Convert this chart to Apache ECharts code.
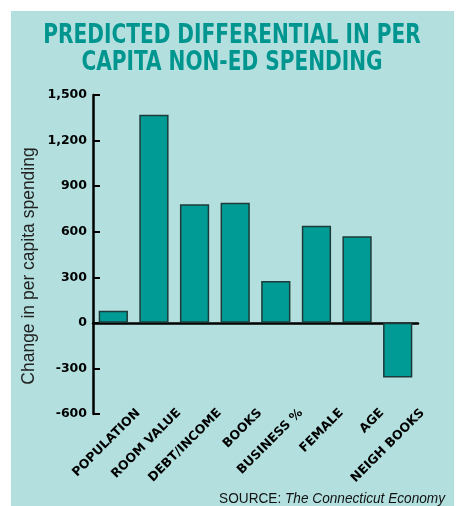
<!DOCTYPE html>
<html>
<head>
<meta charset="utf-8">
<script src="https://cdn.jsdelivr.net/npm/echarts@6/dist/echarts.min.js"></script>
<style>
  html, body { margin: 0; padding: 0; background: #fff; }
  #main { width: 459px; height: 506px; }
</style>
</head>
<body>
<div id="main"></div>
<script>
// data
const categories = ['POPULATION', 'ROOM VALUE', 'DEBT/INCOME', 'BOOKS', 'BUSINESS %', 'FEMALE', 'AGE', 'NEIGH BOOKS'];
const values = [80, 1370, 780, 790, 275, 640, 570, -360];
const yMin = -600;
const yMax = 1500;
const yStep = 300;

const titleLines = ['PREDICTED DIFFERENTIAL IN PER', 'CAPITA NON-ED SPENDING'];
const yName = 'Change in per capita spending';

const teal = '#009b94';
const panel = '#b3e0df';

const chartDom = document.getElementById('main');
const myChart = echarts.init(chartDom);

// no narrow font installed, so squeeze the title/source horizontally
const titleFont = 'bold 26px "DejaVu Sans Condensed", sans-serif';

const option = {
  backgroundColor: '#fff',
  animation: false,
  graphic: [
    {
      type: 'rect',
      z: -10,
      shape: { x: 11, y: 11, width: 443, height: 495 },
      style: { fill: panel }
    },
    {
      type: 'text',
      x: 232, y: 36, scaleX: 0.86,
      style: {
        text: titleLines[0], font: titleFont,
        fill: '#00968f', align: 'center', verticalAlign: 'middle'
      }
    },
    {
      type: 'text',
      x: 232, y: 63, scaleX: 0.86,
      style: {
        text: titleLines[1], font: titleFont,
        fill: '#00968f', align: 'center', verticalAlign: 'middle'
      }
    },
    {
      type: 'text',
      x: 29, y: 266,
      rotation: Math.PI / 2,
      style: {
        text: yName,
        font: '17.5px "Liberation Sans", Arial, sans-serif',
        fill: '#222', align: 'center', verticalAlign: 'middle'
      }
    },
    {
      type: 'text',
      x: 445, y: 507, scaleX: 0.88,
      style: {
        text: '{a|SOURCE: }{b|The Connecticut Economy}',
        align: 'right', verticalAlign: 'bottom',
        rich: {
          a: { font: '15.5px "Liberation Sans", sans-serif', fill: '#111' },
          b: { font: 'italic 15.5px "Liberation Sans", sans-serif', fill: '#111' }
        }
      }
    }
  ],
  grid: [
    { left: 93, right: 41, top: 95, bottom: 92 },
    // label-only grid, shifted right like the print version
    { left: 118, right: 16, top: 95, bottom: 101 }
  ],
  xAxis: [
    {
      type: 'category',
      gridIndex: 0,
      data: categories,
      axisLine: { show: true, onZero: true, lineStyle: { color: '#000', width: 2.5 } },
      axisTick: { show: false },
      axisLabel: { show: false }
    },
    {
      type: 'category',
      gridIndex: 1,
      data: categories,
      axisLine: { show: false },
      axisTick: { show: false },
      axisLabel: {
        rotate: 45,
        margin: 6,
        interval: 0,
        color: '#000',
        fontFamily: 'DejaVu Sans',
        fontWeight: 'bold',
        fontSize: 12.5
      }
    }
  ],
  yAxis: [
    {
      type: 'value',
      gridIndex: 0,
      min: yMin,
      max: yMax,
      interval: yStep,
      splitLine: { show: false },
      axisLine: { show: true, lineStyle: { color: '#000', width: 2.5 } },
      axisTick: { show: true, inside: true, length: 7, lineStyle: { color: '#000', width: 2 } },
      axisLabel: {
        margin: 6,
        color: '#000',
        fontFamily: 'DejaVu Sans',
        fontWeight: 'bold',
        fontSize: 12.5,
        formatter: (v) => v.toLocaleString('en-US')
      }
    },
    {
      type: 'value',
      gridIndex: 1,
      show: false
    }
  ],
  series: [
    {
      type: 'bar',
      xAxisIndex: 0,
      yAxisIndex: 0,
      data: values,
      barWidth: '72%',
      itemStyle: { color: teal, borderColor: '#1c3b3a', borderWidth: 1.5 }
    }
  ]
};

myChart.setOption(option);
</script>
</body>
</html>
